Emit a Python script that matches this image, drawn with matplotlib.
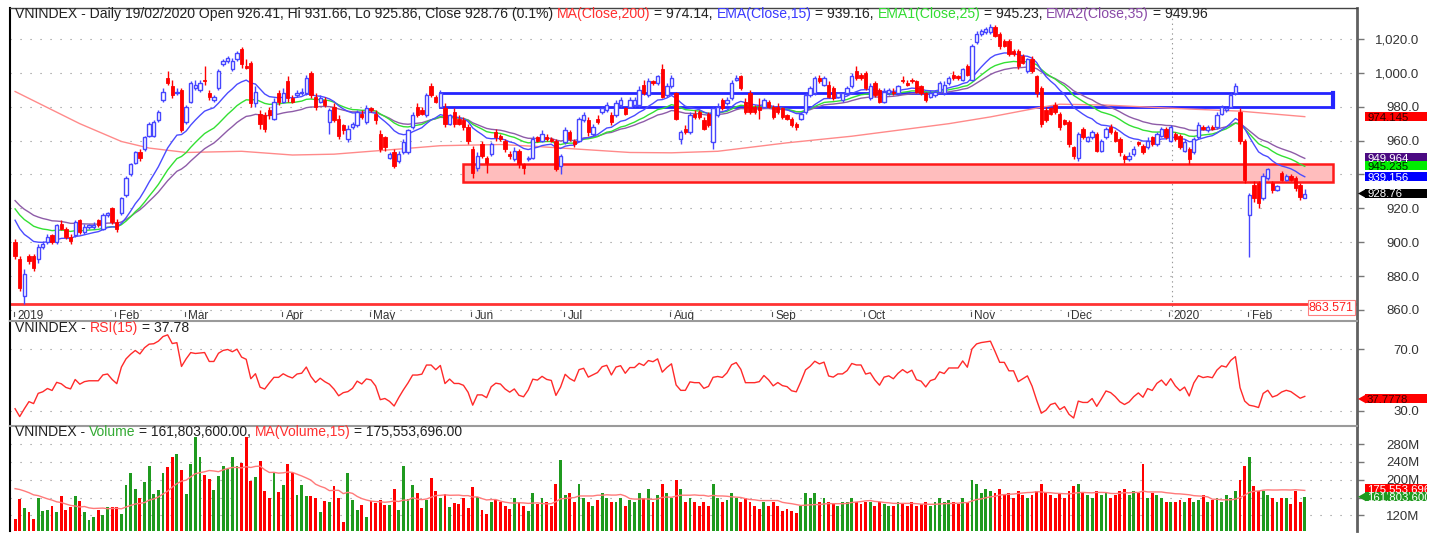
import numpy as np
import matplotlib
matplotlib.use("Agg")
import matplotlib.pyplot as plt
from matplotlib.patches import Rectangle, Polygon
from matplotlib.transforms import blended_transform_factory, IdentityTransform, Bbox, TransformedBbox

plt.rcParams['font.family'] = ['Liberation Sans', 'DejaVu Sans']
plt.rcParams['lines.scale_dashes'] = False

# ---- data (VNINDEX daily, 02/01/2019 .. 19/02/2020) ----
opens = [
    900, 890, 868, 892, 892, 890, 897, 900, 904, 900,
    911, 908, 903, 904, 913, 906, 909, 909, 913, 908,
    916, 920, 912, 917, 928, 940, 947, 953, 955, 963,
    963, 972, 984, 997, 992, 988, 990, 971, 983, 991,
    990, 996, 988, 984, 991, 1005, 1007, 1002, 1008, 1014,
    1004, 1006, 982, 976, 975, 978, 973, 988, 983, 995,
    985, 987, 988, 988, 1000, 986, 983, 984, 971, 980,
    973, 969, 961, 968, 969, 976, 971, 979, 976, 964,
    962, 950, 953, 948, 953, 953, 968, 980, 978, 975,
    992, 986, 980, 979, 970, 977, 973, 972, 968, 955,
    944, 958, 950, 952, 965, 963, 960, 952, 949, 954,
    946, 949, 950, 962, 960, 962, 961, 960, 945, 959,
    965, 960, 960, 972, 972, 964, 973, 977, 978, 975,
    975, 981, 979, 980, 981, 981, 993, 987, 995, 994,
    1002, 987, 992, 988, 961, 967, 965, 976, 977, 972,
    976, 959, 975, 984, 982, 985, 996, 998, 983, 988,
    980, 980, 980, 983, 980, 980, 979, 975, 973, 970,
    973, 977, 987, 988, 997, 993, 993, 991, 986, 984,
    988, 992, 1001, 999, 1000, 985, 994, 990, 983, 988,
    989, 988, 996, 994, 996, 995, 992, 988, 986, 987,
    989, 988, 994, 999, 998, 996, 1004, 996, 1018, 1023,
    1024, 1024, 1027, 1023, 1019, 1019, 1013, 1013, 1010, 1001,
    1008, 998, 991, 978, 979, 981, 976, 972, 971, 956,
    950, 967, 960, 962, 964, 954, 962, 968, 965, 961,
    951, 949, 952, 959, 957, 956, 962, 958, 963, 967,
    960, 964, 963, 954, 955, 953, 962, 968, 966, 968,
    968, 976, 978, 980, 988, 977, 960, 916, 934, 935,
    926, 938, 935, 931, 941, 937, 939, 938, 934, 926.41,
]
closes = [
    892, 873, 881, 889, 885, 897, 899, 903, 900, 910,
    908, 903, 901, 912, 906, 909, 910, 910, 910, 916,
    917, 912, 908, 926, 938, 946, 953, 950, 962, 970,
    971, 977, 989, 994, 987, 989, 966, 980, 994, 993,
    994, 995, 986, 986, 1001, 1007, 1009, 1007, 1012, 1005,
    1003, 982, 989, 970, 967, 975, 983, 983, 988, 985,
    983, 988, 989, 997, 987, 980, 985, 981, 978, 972,
    963, 966, 967, 970, 977, 974, 979, 978, 972, 955,
    956, 952, 945, 952, 959, 966, 975, 975, 976, 987,
    987, 983, 988, 970, 975, 970, 970, 968, 960, 941,
    951, 951, 947, 958, 962, 961, 955, 951, 954, 946,
    944, 950, 961, 960, 964, 961, 960, 943, 951, 966,
    961, 958, 973, 975, 965, 968, 971, 979, 981, 971,
    982, 984, 976, 984, 984, 990, 988, 995, 994, 998,
    986, 992, 997, 973, 965, 965, 975, 974, 974, 967,
    969, 979, 980, 979, 984, 994, 997, 991, 977, 977,
    977, 978, 984, 980, 974, 977, 974, 973, 969, 968,
    976, 987, 991, 997, 995, 997, 986, 985, 988, 988,
    991, 998, 997, 997, 991, 992, 987, 983, 989, 990,
    988, 992, 995, 993, 995, 989, 988, 984, 988, 989,
    994, 993, 997, 997, 997, 1002, 999, 1016, 1023, 1025,
    1026, 1027, 1022, 1016, 1016, 1011, 1011, 1004, 1006, 1008,
    1001, 988, 970, 972, 976, 977, 968, 970, 958, 951,
    964, 962, 962, 965, 954, 960, 967, 965, 960, 953,
    949, 951, 955, 958, 953, 960, 958, 964, 967, 962,
    968, 961, 956, 959, 949, 961, 969, 967, 968, 967,
    975, 980, 979, 987, 992, 960, 937, 928, 926, 923,
    939, 943, 931, 933, 937, 939, 937, 932, 927, 928.76,
]
highs = [
    902, 892, 884, 893, 893, 899, 901, 905, 905, 911,
    913, 909, 905, 913, 914, 911, 911, 912, 914, 917,
    918, 921, 914, 927, 939, 947, 954, 955, 963, 971,
    972, 978, 991, 1001, 996, 991, 991, 981, 995, 996,
    996, 1004, 990, 987, 1002, 1008, 1010, 1009, 1013, 1015,
    1008, 1007, 992, 978, 977, 980, 985, 990, 991, 998,
    987, 990, 991, 999, 1001, 988, 987, 986, 979, 982,
    975, 970, 969, 971, 978, 978, 981, 980, 978, 966,
    963, 953, 955, 954, 961, 967, 977, 982, 980, 988,
    994, 987, 990, 982, 976, 979, 975, 974, 970, 957,
    953, 960, 951, 959, 967, 964, 961, 954, 956, 955,
    947, 951, 963, 963, 966, 964, 962, 961, 952, 968,
    966, 961, 974, 977, 974, 970, 975, 980, 983, 977,
    984, 986, 980, 986, 986, 992, 996, 997, 996, 999,
    1005, 994, 999, 989, 966, 969, 977, 978, 978, 974,
    977, 980, 982, 985, 986, 996, 999, 999, 985, 990,
    981, 985, 985, 984, 981, 982, 980, 976, 974, 971,
    977, 988, 992, 998, 999, 998, 995, 992, 989, 989,
    992, 1000, 1004, 1000, 1001, 994, 995, 991, 991, 991,
    991, 993, 998, 996, 997, 996, 993, 989, 990, 990,
    995, 995, 998, 1001, 999, 1003, 1005, 1017, 1025, 1026,
    1027, 1029, 1028, 1024, 1020, 1020, 1014, 1014, 1011, 1009,
    1010, 999, 992, 980, 980, 983, 977, 973, 972, 957,
    965, 968, 963, 966, 965, 961, 968, 970, 966, 962,
    952, 953, 957, 960, 958, 962, 963, 965, 968, 968,
    969, 965, 964, 961, 956, 962, 971, 969, 969, 969,
    977, 981, 980, 988, 994, 979, 961, 929, 936, 936,
    941, 944, 936, 934, 942, 940, 940, 939, 935, 931.66,
]
lows = [
    890, 871, 863.57, 887, 883, 888, 896, 899, 899, 899,
    907, 902, 899, 903, 905, 905, 908, 908, 909, 907,
    915, 911, 906, 916, 927, 939, 946, 948, 954, 962,
    962, 971, 983, 993, 985, 987, 965, 970, 982, 990,
    989, 993, 984, 983, 990, 1004, 1006, 1001, 1007, 1003,
    1002, 980, 980, 967, 965, 973, 972, 981, 982, 983,
    982, 986, 987, 987, 985, 978, 982, 980, 964, 971,
    961, 964, 959, 967, 968, 973, 970, 977, 970, 953,
    954, 949, 944, 947, 952, 952, 967, 974, 975, 974,
    986, 982, 979, 968, 969, 968, 969, 966, 958, 938,
    942, 950, 941, 951, 960, 960, 953, 949, 948, 944,
    940, 948, 949, 959, 959, 960, 959, 942, 940, 958,
    960, 956, 959, 971, 963, 963, 970, 976, 977, 969,
    974, 980, 975, 979, 980, 980, 987, 986, 993, 993,
    985, 986, 991, 972, 958, 964, 964, 973, 973, 966,
    968, 955, 974, 978, 981, 984, 995, 990, 976, 976,
    976, 973, 979, 979, 973, 976, 973, 972, 968, 966,
    972, 976, 986, 987, 994, 992, 985, 984, 985, 983,
    987, 991, 996, 996, 990, 984, 986, 982, 982, 987,
    987, 987, 994, 992, 994, 988, 987, 983, 985, 986,
    988, 987, 993, 996, 996, 995, 998, 995, 1017, 1022,
    1023, 1023, 1021, 1014, 1015, 1010, 1010, 1002, 1005, 1000,
    1000, 986, 968, 971, 975, 976, 966, 969, 956, 949,
    948, 961, 959, 961, 953, 953, 961, 964, 959, 951,
    947, 948, 951, 957, 952, 955, 957, 957, 962, 961,
    959, 960, 955, 953, 946, 952, 961, 966, 965, 966,
    967, 975, 977, 979, 987, 958, 935, 891.5, 924, 920,
    925, 937, 929, 930, 936, 936, 936, 930, 925, 925.86,
]
# volume in millions of shares
volumes = [
    111, 156, 136, 127, 112, 159, 130, 132, 142, 127,
    163, 133, 139, 164, 152, 128, 110, 116, 132, 120,
    138, 138, 138, 124, 189, 215, 180, 159, 194, 232,
    169, 178, 215, 228, 252, 258, 223, 169, 236, 296,
    250, 211, 201, 178, 208, 230, 224, 250, 230, 237,
    296, 198, 206, 243, 175, 159, 216, 173, 189, 236,
    216, 165, 189, 163, 164, 159, 128, 153, 149, 185,
    159, 106, 216, 154, 133, 144, 117, 153, 148, 154,
    144, 143, 180, 132, 232, 156, 189, 170, 136, 154,
    204, 174, 159, 167, 138, 147, 145, 160, 136, 184,
    161, 132, 124, 149, 154, 150, 140, 135, 160, 150,
    140, 130, 170, 145, 160, 150, 140, 190, 245, 165,
    170, 150, 190, 160, 150, 140, 155, 170, 160, 150,
    150, 160, 140, 155, 150, 170, 160, 180, 150, 165,
    190, 170, 160, 200, 180, 150, 160, 150, 140, 150,
    140, 190, 160, 150, 155, 170, 160, 150, 160, 150,
    140, 135, 150, 140, 150, 140, 130, 135, 130, 125,
    140, 170, 160, 170, 150, 160, 150, 145, 140, 150,
    150, 160, 150, 145, 150, 150, 140, 150, 145, 140,
    140, 150, 145, 140, 150, 140, 145, 150, 140, 150,
    160, 150, 155, 150, 145, 160, 150, 200, 190, 170,
    180, 175, 170, 180, 165, 170, 160, 175, 165, 160,
    165, 175, 190, 170, 165, 160, 170, 160, 175, 185,
    190, 170, 165, 160, 175, 165, 170, 160, 165, 175,
    180, 165, 175, 170, 235, 160, 170, 165, 160, 150,
    150, 150, 155, 150, 160, 150, 155, 165, 150, 155,
    160, 150, 165, 160, 175, 200, 230, 250, 185, 175,
    175, 165, 160, 150, 160, 160, 145, 175, 150, 161.8036,
]

month_idx = [0, 22, 37, 58, 77, 99, 119, 142, 164, 184, 207, 228, 250, 267]
month_lbl = ['2019', 'Feb', 'Mar', 'Apr', 'May', 'Jun', 'Jul', 'Aug',
             'Sep', 'Oct', 'Nov', 'Dec', '2020', 'Feb']

# MA(Close,200) at a few bar positions
ma200_idx = [0, 14, 23, 29, 37, 49, 60, 69, 83, 92, 105, 112, 133, 142, 152,
             167, 181, 202, 211, 222, 226, 236, 251, 265, 279]
ma200_val = [989, 970, 959.5, 955.6, 953, 953.7, 951.5, 952, 955, 957, 957.7,
             956.7, 953, 952.8, 953.7, 958.7, 962.6, 970, 974, 979.7, 981.5,
             981, 979, 977.4, 974.145]

# last indicator readings printed by the charting program
last_ma200 = 974.145
last_ema = {15: 939.156, 25: 945.235, 35: 949.964}
last_rsi = 37.7778
last_vol_ma = 175553696

# support / resistance zones (bar range, price range)
blue_zone = (92.0, 285.1, 979.8, 988.4)
red_zone = (96.8, 285.1, 935.4, 946.1)
low_line = 863.571

o = np.array(opens, float)
c = np.array(closes, float)
h = np.array(highs, float)
lo = np.array(lows, float)
v = np.array(volumes, float) * 1e6
n = len(c)
x = np.arange(n)


def ema(vals, span, prior):
    a = 2.0 / (span + 1)
    out, prev = [], prior
    for val in vals:
        prev = prev + a * (val - prev)
        out.append(prev)
    return np.array(out)


def rsi(vals, period, g0, l0):
    ag, al = g0, l0
    out = [100 - 100 / (1 + ag / al)]
    for i in range(1, len(vals)):
        d = vals[i] - vals[i - 1]
        ag = (ag * (period - 1) + max(d, 0)) / period
        al = (al * (period - 1) + max(-d, 0)) / period
        out.append(100 - 100 / (1 + ag / al))
    return np.array(out)


ema15 = ema(c, 15, 916)
ema25 = ema(c, 25, 922)
ema35 = ema(c, 35, 926.5)
rsi15 = rsi(c, 15, 2.2, 4.8)
padded = np.concatenate([np.full(14, 185e6), v])
vol_ma = np.convolve(padded, np.ones(15) / 15, mode='valid')

# ---- figure ----
W, H = 1441, 535
fig = plt.figure(figsize=(W / 100, H / 100), dpi=100)


def px_axes(l, t, r, b):
    return fig.add_axes([l / W, 1 - b / H, (r - l) / W, (b - t) / H])


ax1 = px_axes(10, 8, 1357, 321)
ax2 = px_axes(10, 321, 1357, 426)
ax3 = px_axes(10, 426, 1357, 531)

dots = (0, (0.8, 6.4))
for ax in (ax1, ax2, ax3):
    ax.set_xlim(-1.1, 290.3)
    for s in ax.spines.values():
        s.set_visible(False)
    ax.spines['left'].set_visible(True)
    ax.spines['left'].set_color('black')
    ax.spines['left'].set_linewidth(1.5)
    ax.spines['right'].set_visible(True)
    ax.spines['right'].set_color('#606060')
    ax.spines['right'].set_linewidth(2)
    ax.spines['top'].set_visible(True)
    ax.spines['top'].set_linewidth(1.5)
    ax.spines['top'].set_color('#9a9a9a')
    ax.set_xticks([])
    ax.yaxis.tick_right()
    ax.tick_params(axis='y', length=5, width=1, color='#777777', pad=40,
                   labelsize=9.5, labelcolor='#333333')
    ax.yaxis.grid(True, linestyle=dots, color='#8c8c8c', lw=0.8)
    ax.set_axisbelow(True)
ax1.spines['top'].set_color('#444444')
ax1.spines['top'].set_linewidth(1)

# main panel
ax1.set_ylim(853.5, 1038.3)
pt = np.arange(860, 1021, 20)
ax1.set_yticks(pt)
# 940.0 sits under the EMA tags on the original, so it is left blank
ax1.set_yticklabels(['' if t == 940 else '{:,.1f}'.format(t) for t in pt])

bx0, bx1, by0, by1 = blue_zone
ax1.add_patch(Rectangle((bx0, by0), bx1 - bx0, by1 - by0, fill=False,
                        ec='#2424ff', lw=2, zorder=2))
ax1.plot([bx1, bx1], [by0, by1], color='#2424ff', lw=3, zorder=2)
rx0, rx1, ry0, ry1 = red_zone
ax1.add_patch(Rectangle((rx0, ry0), rx1 - rx0, ry1 - ry0, fc='#ffbdbd',
                        ec='#ff1a1a', lw=1.8, zorder=1.5))
ax1.axhline(low_line, color='#ff3333', lw=2, zorder=2)
ax1.axvline(250.3, color='#999999', lw=0.8, linestyle=(0, (1, 2.5)), zorder=1)

ax1.plot(ma200_idx, ma200_val, color='#ff8a8a', lw=1, zorder=3)
ax1.plot(x, ema35, color='#8e5ca8', lw=1, zorder=3)
ax1.plot(x, ema25, color='#33e033', lw=1, zorder=3)
ax1.plot(x, ema15, color='#4b4bff', lw=1, zorder=3)

up = c >= o
body_lo = np.minimum(o, c)
body_h = np.maximum(np.abs(c - o), 0.7)
wick_col = np.where(up, '#4646ff', '#ff0000')
ax1.vlines(x, lo, h, colors=wick_col, lw=1, zorder=4)
ax1.bar(x[up], body_h[up], 0.72, bottom=body_lo[up], facecolor='white',
        edgecolor='#4646ff', lw=1, zorder=5)
ax1.bar(x[~up], body_h[~up], 0.72, bottom=body_lo[~up], facecolor='#ff0000',
        edgecolor='#ff0000', lw=0.6, zorder=5)

# month labels along the bottom of the price panel
tb = blended_transform_factory(ax1.transData, ax1.transAxes)
for mi, ml in zip(month_idx, month_lbl):
    ax1.plot([mi - 0.3, mi - 0.3], [0.017, 0.03], color='#555555', lw=0.8,
             transform=tb, clip_on=False, zorder=6)
    ax1.text(mi + 0.5, 0.016, ml, transform=tb, fontsize=8.5, color='#333333',
             ha='left', va='center', zorder=6)

# RSI panel
ax2.set_ylim(20.2, 88.4)
ax2.set_yticks([30, 70])
ax2.set_yticklabels(['30.0', '70.0'])
ax2.plot(x, rsi15, color='#ff2a2a', lw=1)

# volume panel
ax3.set_ylim(85e6, 320.7e6)
vt = np.arange(120e6, 281e6, 40e6)
ax3.set_yticks(vt)
# 160M is hidden under the volume tags on the original
ax3.set_yticklabels(['' if int(t / 1e6) == 160 else '{:d}M'.format(int(t / 1e6))
                     for t in vt])
vup = c >= o
ax3.bar(x[vup], v[vup], 0.62, color='#1f9a1f', zorder=3)
ax3.bar(x[~vup], v[~vup], 0.62, color='#ff0000', zorder=3)
ax3.plot(x, vol_ma, color='#ff7a7a', lw=1, zorder=4)

for ax in (ax1, ax2, ax3):
    for lab in ax.get_yticklabels():
        lab.set_horizontalalignment('right')


# value tags on the right axis (dy_px nudges a tag up so stacked tags touch)
def tag(ax, val, txt, fc, tc, arrow=False, dy_px=0):
    y0, y1 = ax.get_ylim()
    upp = (y1 - y0) / ax.get_window_extent().height
    hh = 9 * upp
    yc = val + dy_px * upp
    tr = blended_transform_factory(IdentityTransform(), ax.transData)
    ax.add_patch(Rectangle((1365, yc - hh / 2), 62, hh, transform=tr, fc=fc,
                           ec='none', clip_on=False, zorder=6))
    if arrow:
        ax.add_patch(Polygon([(1358, yc), (1366, yc + hh / 2), (1366, yc - hh / 2)],
                             closed=True, transform=tr, fc=fc, ec='none',
                             clip_on=False, zorder=6))
    t = ax.text(1367, yc - 3.9 * upp, txt, transform=tr, fontsize=8.2, color=tc,
                ha='left', va='baseline', zorder=7)
    t.set_clip_box(TransformedBbox(Bbox([[1360, yc - 7 * upp], [1427, yc + 7 * upp]]), tr))
    t.set_clip_on(True)


tag(ax1, last_ma200, '974.145', '#ff0000', '#300000')
tag(ax1, last_ema[35], '{:.3f}'.format(last_ema[35]), '#4b0a82', 'white')
tag(ax1, last_ema[25], '{:.3f}'.format(last_ema[25]), '#00ee00', '#002200')
tag(ax1, last_ema[15], '{:.3f}'.format(last_ema[15]), '#0000ff', 'white', dy_px=-1)
tag(ax1, c[-1], '{:.2f}'.format(c[-1]), '#000000', 'white', arrow=True)
tag(ax2, last_rsi, '{:.4f}'.format(last_rsi), '#ff0000', '#400000', arrow=True)
tag(ax3, last_vol_ma, '{:,.0f}'.format(last_vol_ma), '#ff0000', 'white', dy_px=2)
tag(ax3, v[-1], '{:,.0f}'.format(v[-1]), '#1f9a1f', 'white', arrow=True)

ax1.text(289.6, low_line - 2.2, '863.571', fontsize=9, color='#ff2020',
         ha='right', va='center', zorder=6,
         bbox=dict(boxstyle='square,pad=0.1', fc='white', ec='#ff8080', lw=0.8))

# multi-coloured panel headers
renderer = fig.canvas.get_renderer()


def header(x_px, y_px, parts, size=10.1):
    xx = x_px
    for s, col in parts:
        t = fig.text(xx / W, 1 - y_px / H, s, color=col, fontsize=size,
                     ha='left', va='center')
        xx = t.get_window_extent(renderer).x1 + 3.8


header(15, 14, [
    ('VNINDEX - Daily 19/02/2020 Open 926.41, Hi 931.66, Lo 925.86, Close 928.76 (0.1%)', '#222222'),
    ('MA(Close,200)', '#ff3030'), ('= 974.14,', '#222222'),
    ('EMA(Close,15)', '#3a3aff'), ('= 939.16,', '#222222'),
    ('EMA1(Close,25)', '#33dd33'), ('= 945.23,', '#222222'),
    ('EMA2(Close,35)', '#8a4aa8'), ('= 949.96', '#222222')])
header(15, 328, [('VNINDEX -', '#222222'), ('RSI(15)', '#ff3030'),
                 ('= 37.78', '#222222')])
header(15, 432, [('VNINDEX -', '#222222'), ('Volume', '#33aa33'),
                 ('= 161,803,600.00,', '#222222'), ('MA(Volume,15)', '#ff3030'),
                 ('= 175,553,696.00', '#222222')], size=10)

fig.savefig('out.png', dpi=100)
